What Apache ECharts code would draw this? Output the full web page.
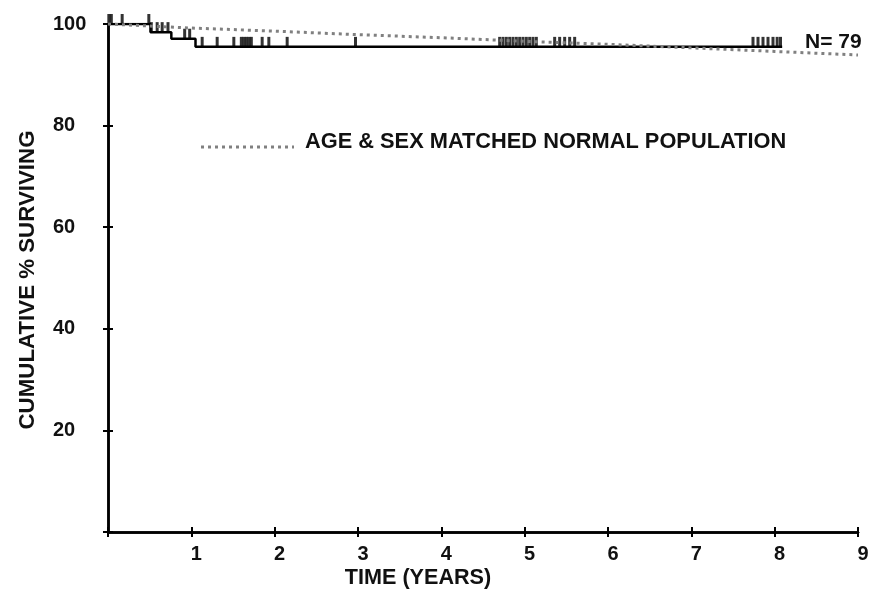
<!DOCTYPE html>
<html>
<head>
<meta charset="utf-8">
<script src="https://cdn.jsdelivr.net/npm/echarts@6/dist/echarts.min.js"></script>
<style>
  html, body { margin: 0; padding: 0; background: #fff; }
  #chart { width: 879px; height: 590px; }
</style>
</head>
<body>
<div id="chart"></div>
<script>
// Kaplan-Meier step curve (years, % surviving)
const kmTimes = [0, 0.51, 0.76, 1.05, 8.09]
const kmSurv = [100, 98.4, 97.1, 95.5, 95.5]

// censored patients (years)
const censorTimes = [
  0.01, 0.04, 0.17, 0.49, 0.52,
  0.59, 0.65, 0.72,
  0.92, 0.98,
  1.13, 1.31, 1.51, 1.60, 1.63, 1.66, 1.69, 1.72, 1.85, 1.93, 2.15, 2.97,
  4.70, 4.74, 4.78, 4.82, 4.86, 4.90, 4.94, 4.98, 5.02, 5.06, 5.10, 5.14,
  5.36, 5.42, 5.48, 5.54, 5.60,
  7.74, 7.80, 7.86, 7.92, 7.98, 8.03, 8.07
]

// age & sex matched normal population
const normTimes = [0, 1, 2, 3, 4, 5, 6, 7, 8, 9]
const normSurv = [100, 99.2, 98.6, 97.9, 97.3, 96.6, 96.0, 95.3, 94.6, 93.9]

const yTicks = [20, 40, 60, 80, 100]
const legendName = 'AGE & SEX MATCHED NORMAL POPULATION'

function survAt(t) {
  let s = kmSurv[0]
  for (let i = 0; i < kmTimes.length; i++) {
    if (kmTimes[i] <= t) s = kmSurv[i]
  }
  return s
}

const font = 'Liberation Sans, Arial, sans-serif'
const chart = echarts.init(document.getElementById('chart'))

const axisBase = {
  axisLine: { lineStyle: { color: '#000', width: 2.5 } },
  splitLine: { show: false }
}

chart.setOption({
  animation: false,
  backgroundColor: '#fff',
  grid: { left: 108, right: 21, top: 24, bottom: 58 },
  xAxis: [
    Object.assign({}, axisBase, {
      type: 'value', min: 0, max: 9, interval: 1,
      axisTick: { length: 5, lineStyle: { color: '#000', width: 2 } },
      axisLabel: {
        margin: 12, color: '#111', fontFamily: font, fontWeight: 'bold', fontSize: 20,
        padding: [0, 0, 0, 10],
        formatter: v => (v === 0 ? '' : String(v))
      }
    }),
    Object.assign({}, axisBase, {
      type: 'value', min: 0, max: 9, interval: 1, position: 'bottom',
      axisTick: { inside: true, length: 5, lineStyle: { color: '#000', width: 2 } },
      axisLabel: { show: false }
    })
  ],
  yAxis: [
    Object.assign({}, axisBase, {
      type: 'value', min: 0, max: 100, interval: 20,
      axisTick: { length: 5, lineStyle: { color: '#000', width: 2 } },
      axisLabel: {
        margin: 55, align: 'left', color: '#111', fontFamily: font, fontWeight: 'bold', fontSize: 20,
        padding: [0, 0, 10, 0],
        formatter: v => (yTicks.includes(v) ? String(v) : '')
      }
    }),
    Object.assign({}, axisBase, {
      type: 'value', min: 0, max: 100, interval: 20, position: 'left',
      axisTick: { inside: true, length: 5, lineStyle: { color: '#000', width: 2 } },
      axisLabel: { show: false }
    })
  ],
  graphic: [
    {
      type: 'line', shape: { x1: 201, y1: 147, x2: 294, y2: 147 },
      style: { stroke: '#808080', lineWidth: 3, lineDash: [3, 4] }
    },
    {
      type: 'text', x: 305, y: 142,
      style: { text: legendName, fill: '#111', font: 'bold 21.8px ' + font, verticalAlign: 'middle' }
    },
    {
      type: 'text', x: 805, y: 42,
      style: { text: 'N= 79', fill: '#111', font: 'bold 21px ' + font, verticalAlign: 'middle' }
    },
    {
      type: 'text', x: 418, y: 578,
      style: { text: 'TIME (YEARS)', fill: '#111', font: 'bold 21.6px ' + font, align: 'center', verticalAlign: 'middle' }
    },
    {
      type: 'text', x: 28, y: 280, rotation: Math.PI / 2,
      style: { text: 'CUMULATIVE % SURVIVING', fill: '#111', font: 'bold 22.3px ' + font, align: 'center', verticalAlign: 'middle' }
    }
  ],
  series: [
    {
      name: 'KM',
      type: 'line', step: 'end', symbol: 'none',
      lineStyle: { color: '#000', width: 2.5 },
      data: kmTimes.map((t, i) => [t, kmSurv[i]]),
      z: 3
    },
    {
      name: 'censored',
      type: 'scatter', symbol: 'rect', symbolSize: [3, 10], symbolOffset: [0, -5],
      itemStyle: { color: '#000' },
      data: censorTimes.map(t => [t, survAt(t)]),
      clip: false,
      z: 3
    },
    {
      name: legendName,
      type: 'line', symbol: 'none',
      lineStyle: { color: '#808080', width: 3, type: [3, 4] },
      data: normTimes.map((t, i) => [t, normSurv[i]]),
      clip: false,
      z: 4
    }
  ]
})
</script>
</body>
</html>
